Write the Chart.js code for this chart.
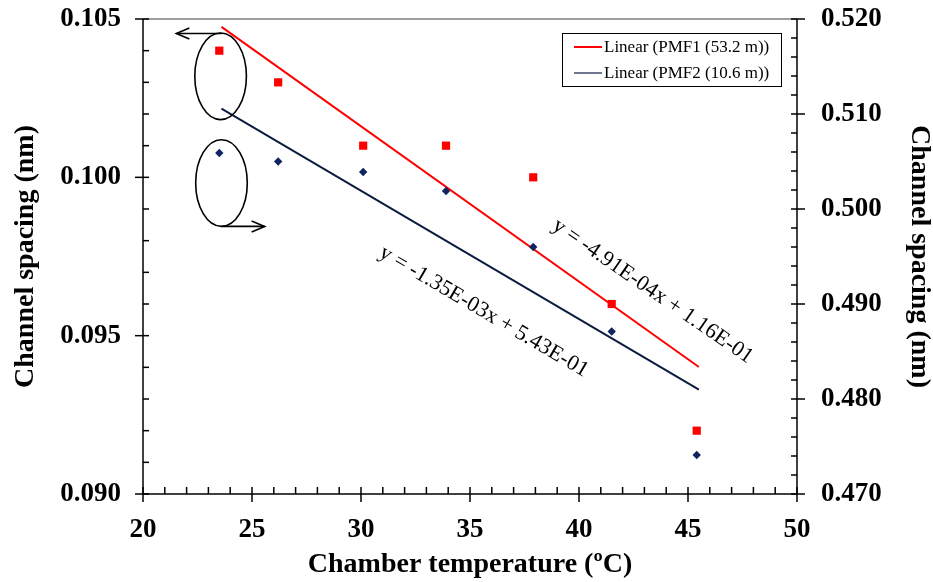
<!DOCTYPE html>
<html>
<head>
<meta charset="utf-8">
<script src="https://cdn.jsdelivr.net/npm/chart.js@4.4.1/dist/chart.umd.min.js"></script>
<style>
  html, body { margin: 0; padding: 0; background: #fff; }
  #wrap { width: 933px; height: 582px; }
</style>
</head>
<body>
<div id="wrap"><canvas id="chart"></canvas></div>
<script>
// chamber temperature (oC)
const temps = [23.5, 26.2, 30.1, 33.9, 37.9, 41.5, 45.4];
// PMF1 (53.2 m) channel spacing, left axis (nm)
const pmf1Spacing = [0.104, 0.103, 0.101, 0.101, 0.100, 0.096, 0.092];
// PMF2 (10.6 m) channel spacing, right axis (nm)
const pmf2Spacing = [0.5059, 0.5050, 0.5039, 0.5019, 0.4960, 0.4871, 0.4741];

// linear trend lines, end points
const fitTemps = [23.6, 45.5];
const pmf1Fit = [0.10475, 0.09401];
const pmf2Fit = [0.51056, 0.48098];

const pmf1Label = "Linear (PMF1 (53.2 m))";
const pmf2Label = "Linear (PMF2 (10.6 m))";
const pmf1Eq = "y = -4.91E-04x + 1.16E-01";
const pmf2Eq = "y = -1.35E-03x + 5.43E-01";

const RED = "#ff0000";
const NAVY = "#0f2460";
const NAVY_LINE = "#0c1b40";
const SERIF = "'Liberation Serif', 'Times New Roman', serif";

const toPoints = (xs, ys) => xs.map((v, i) => ({ x: v, y: ys[i] }));

// ---------- axes, ticks, notes, legend ----------
const framePlugin = {
  id: "frame",
  afterDatasetsDraw(chart) {
    const { ctx, chartArea: a, scales } = chart;
    const sx = scales.x, sy = scales.y, sy1 = scales.y1;
    const line = (x1, y1, x2, y2) => {
      ctx.beginPath(); ctx.moveTo(x1, y1); ctx.lineTo(x2, y2); ctx.stroke();
    };
    ctx.save();

    // frame
    ctx.lineWidth = 1.5;
    ctx.strokeStyle = "#7f7f7f";
    line(a.left, a.top, a.right, a.top);
    ctx.strokeStyle = "#000";
    line(a.left, a.top, a.left, a.bottom);
    line(a.right, a.top, a.right, a.bottom);
    line(a.left, a.bottom, a.right, a.bottom);

    // x ticks, minor every 1
    for (let i = 0; i <= 30; i++) {
      const px = sx.getPixelForValue(20 + i);
      const major = i % 5 === 0;
      line(px, a.bottom - 7, px, a.bottom + (major ? 8 : 0));
    }
    // left ticks, minor every 0.001
    for (let i = 0; i <= 15; i++) {
      const py = sy.getPixelForValue(0.090 + i * 0.001);
      const major = i % 5 === 0;
      line(a.left - (major ? 8 : 0), py, a.left + 6, py);
    }
    // right ticks, minor every 0.002
    for (let i = 0; i <= 25; i++) {
      const py = sy1.getPixelForValue(0.470 + i * 0.002);
      const major = i % 5 === 0;
      line(a.right - 6, py, a.right + (major ? 8 : 0), py);
    }

    // ellipses with arrows pointing to the axis each series uses
    ctx.lineWidth = 1.6;
    const ell = (xv, yv) => {
      ctx.beginPath();
      ctx.ellipse(sx.getPixelForValue(xv), sy.getPixelForValue(yv), 25.8, 43.3, 0, 0, Math.PI * 2);
      ctx.stroke();
    };
    ell(23.56, 0.10319);
    ell(23.6, 0.09982);

    const arrow = (x1v, x2v, yv) => {
      const x1 = sx.getPixelForValue(x1v), x2 = sx.getPixelForValue(x2v);
      const py = sy.getPixelForValue(yv);
      const d = Math.sign(x2 - x1);
      line(x1, py, x2, py);
      ctx.beginPath();
      ctx.moveTo(x2 - d * 13, py - 5.5);
      ctx.lineTo(x2, py);
      ctx.lineTo(x2 - d * 13, py + 5.5);
      ctx.stroke();
    };
    arrow(23.6, 21.53, 0.10454);
    arrow(23.6, 25.58, 0.09845);

    // trend line equations
    ctx.fillStyle = "#000";
    ctx.font = "22px " + SERIF;
    ctx.textAlign = "center";
    ctx.textBaseline = "middle";
    const eq = (text, xv, yv, deg) => {
      ctx.save();
      ctx.translate(sx.getPixelForValue(xv), sy.getPixelForValue(yv));
      ctx.rotate(deg * Math.PI / 180);
      ctx.fillText(text, 0, 0);
      ctx.restore();
    };
    eq(pmf1Eq, 43.38, 0.09640, 34.6);
    eq(pmf2Eq, 35.63, 0.09576, 30.5);

    // legend box
    const fits = chart.data.datasets.filter(d => d.showLine);
    const bx = 562, by = 33, bw = 219, bh = 53;
    ctx.lineWidth = 1;
    ctx.strokeStyle = "#000";
    ctx.strokeRect(bx + 0.5, by + 0.5, bw, bh);
    ctx.font = "17px " + SERIF;
    ctx.textAlign = "left";
    fits.forEach((d, i) => {
      const ly = by + 14 + i * 26;
      ctx.strokeStyle = d.borderColor;
      ctx.lineWidth = i === 0 ? 2 : 1.2;
      line(bx + 12, ly, bx + 40, ly);
      ctx.fillStyle = "#000";
      ctx.fillText(d.label, bx + 42, ly + 1);
    });
    ctx.restore();
  }
};

const tickFont = { family: SERIF, size: 27, weight: "bold" };
const titleFont = { family: SERIF, size: 28, weight: "bold" };
const noPad = s => { s.paddingTop = 0; s.paddingBottom = 0; };

new Chart(document.getElementById("chart"), {
  type: "scatter",
  data: {
    datasets: [
      {
        label: "PMF1 (53.2 m)",
        data: toPoints(temps, pmf1Spacing),
        yAxisID: "y",
        pointStyle: "rect",
        pointRadius: 5.8,
        backgroundColor: RED,
        borderColor: RED,
        borderWidth: 0
      },
      {
        label: "PMF2 (10.6 m)",
        data: toPoints(temps, pmf2Spacing),
        yAxisID: "y1",
        pointStyle: "rectRot",
        pointRadius: 4.2,
        backgroundColor: NAVY,
        borderColor: NAVY,
        borderWidth: 0
      },
      {
        label: pmf1Label,
        data: toPoints(fitTemps, pmf1Fit),
        yAxisID: "y",
        showLine: true,
        pointRadius: 0,
        borderColor: RED,
        borderWidth: 2
      },
      {
        label: pmf2Label,
        data: toPoints(fitTemps, pmf2Fit),
        yAxisID: "y1",
        showLine: true,
        pointRadius: 0,
        borderColor: NAVY_LINE,
        borderWidth: 2
      }
    ]
  },
  options: {
    responsive: true,
    maintainAspectRatio: false,
    animation: false,
    layout: { padding: { top: 19, left: 0, right: 0, bottom: 0 } },
    plugins: { legend: { display: false }, tooltip: { enabled: false } },
    scales: {
      x: {
        type: "linear",
        min: 20, max: 50,
        grid: { display: false, drawTicks: false },
        border: { display: false },
        ticks: { stepSize: 5, padding: 20, color: "#000", font: tickFont },
        title: { display: true, text: "Chamber temperature (ºC)", color: "#000", font: titleFont, padding: { top: 0, bottom: 0 } },
        afterFit: s => { s.height = 88; }
      },
      y: {
        position: "left",
        min: 0.090, max: 0.105,
        grid: { display: false, drawTicks: false },
        border: { display: false },
        ticks: { stepSize: 0.005, padding: 22, color: "#000", font: tickFont, callback: v => v.toFixed(3) },
        title: { display: true, text: "Channel spacing (nm)", color: "#000", font: titleFont, padding: { top: 9, bottom: 0 } },
        afterFit: s => { s.width = 143; noPad(s); }
      },
      y1: {
        position: "right",
        min: 0.470, max: 0.520,
        grid: { display: false, drawTicks: false },
        border: { display: false },
        ticks: { stepSize: 0.01, padding: 24, color: "#000", font: tickFont, callback: v => v.toFixed(3) },
        title: { display: true, text: "Channel spacing (nm)", color: "#000", font: titleFont, padding: { top: -3, bottom: 0 } },
        afterFit: s => { s.width = 136; noPad(s); }
      }
    }
  },
  plugins: [framePlugin]
});
</script>
</body>
</html>
